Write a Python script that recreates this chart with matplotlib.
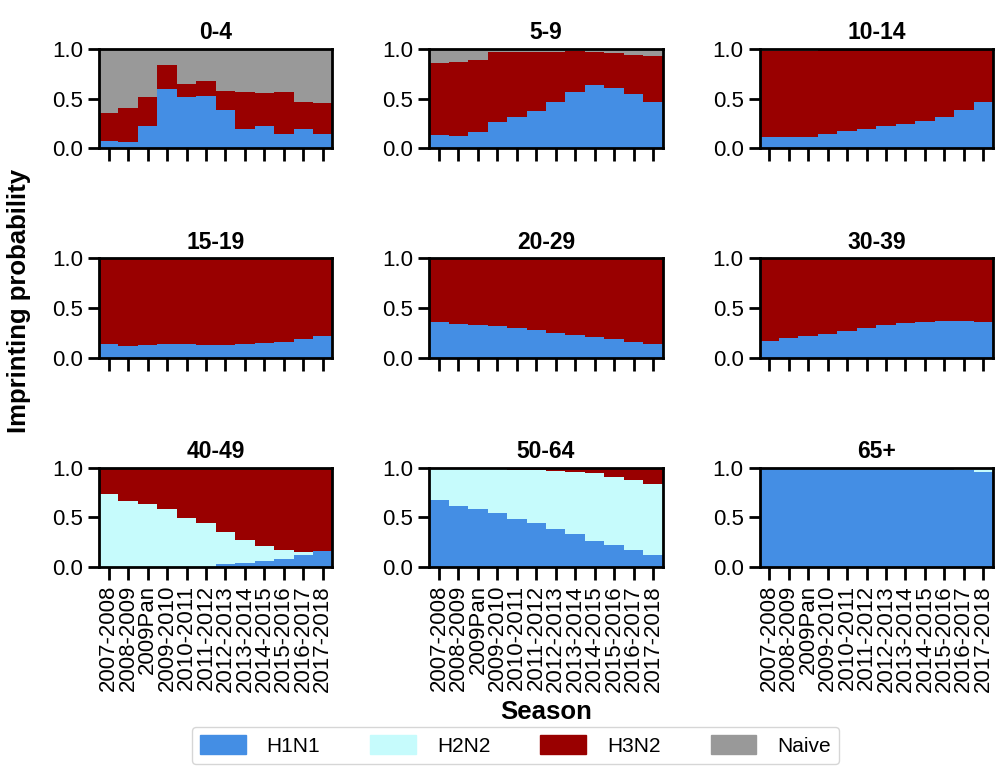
import numpy as np
import matplotlib.pyplot as plt
from matplotlib.patches import Patch

################################################################
# data:
seasons = ['2007-2008', '2008-2009', '2009Pan', '2009-2010', '2010-2011', '2011-2012',
           '2012-2013', '2013-2014', '2014-2015', '2015-2016', '2016-2017', '2017-2018']
age_groups = ['0-4', '5-9', '10-14', '15-19', '20-29', '30-39', '40-49', '50-64', '65+']

h1n1 = {
    '0-4':   [0.075, 0.065, 0.22, 0.60, 0.52, 0.53, 0.39, 0.19, 0.22, 0.14, 0.19, 0.14],
    '5-9':   [0.137, 0.127, 0.168, 0.26, 0.31, 0.373, 0.466, 0.568, 0.64, 0.61, 0.548, 0.466],
    '10-14': [0.117, 0.117, 0.117, 0.148, 0.169, 0.19, 0.22, 0.24, 0.27, 0.31, 0.385, 0.466],
    '15-19': [0.14, 0.12, 0.13, 0.14, 0.14, 0.13, 0.13, 0.14, 0.15, 0.16, 0.19, 0.22],
    '20-29': [0.356, 0.336, 0.325, 0.315, 0.295, 0.274, 0.253, 0.233, 0.212, 0.192, 0.16, 0.14],
    '30-39': [0.17, 0.20, 0.22, 0.24, 0.27, 0.295, 0.325, 0.346, 0.356, 0.366, 0.366, 0.356],
    '40-49': [0.0, 0.0, 0.0, 0.0, 0.003, 0.005, 0.03, 0.04, 0.06, 0.08, 0.123, 0.164],
    '50-64': [0.678, 0.616, 0.586, 0.545, 0.483, 0.44, 0.38, 0.33, 0.267, 0.226, 0.175, 0.123],
    '65+':   [1.0, 1.0, 1.0, 1.0, 1.0, 1.0, 1.0, 0.995, 0.995, 0.985, 0.98, 0.962],
}
h2n2 = {
    '0-4':   [0.0] * 12,
    '5-9':   [0.0] * 12,
    '10-14': [0.0] * 12,
    '15-19': [0.0] * 12,
    '20-29': [0.0] * 12,
    '30-39': [0.0] * 12,
    '40-49': [0.74, 0.67, 0.64, 0.586, 0.49, 0.435, 0.32, 0.237, 0.156, 0.095, 0.031, 0.0],
    '50-64': [0.322, 0.379, 0.409, 0.45, 0.497, 0.54, 0.59, 0.63, 0.678, 0.684, 0.702, 0.713],
    '65+':   [0.0, 0.0, 0.0, 0.0, 0.0, 0.0, 0.0, 0.005, 0.005, 0.015, 0.02, 0.038],
}
naive = {
    '0-4':   [0.64, 0.59, 0.48, 0.16, 0.35, 0.32, 0.42, 0.43, 0.44, 0.43, 0.53, 0.545],
    '5-9':   [0.144, 0.134, 0.113, 0.03, 0.03, 0.03, 0.03, 0.02, 0.03, 0.04, 0.06, 0.07],
    '10-14': [0.015, 0.015, 0.015, 0.0, 0.0, 0.0, 0.0, 0.0, 0.0, 0.0, 0.0, 0.0],
    '15-19': [0.0] * 12,
    '20-29': [0.0] * 12,
    '30-39': [0.0] * 12,
    '40-49': [0.0] * 12,
    '50-64': [0.0] * 12,
    '65+':   [0.0] * 12,
}

colors = {'H1N1': '#448ee4', 'H2N2': '#c6fbfc', 'H3N2': '#990000', 'Naive': '#999999'}

################################################################
# plot:
plt.rcParams['font.family'] = ['Liberation Sans', 'DejaVu Sans']
fig, axes = plt.subplots(3, 3, figsize=(9.97, 7.72), dpi=100)
fig.subplots_adjust(left=0.0993, right=0.996, top=0.9365, bottom=0.2655,
                    wspace=0.415, hspace=1.11)

x = np.arange(len(seasons))
for i, age in enumerate(age_groups):
    ax = axes[i // 3, i % 3]
    b1 = np.array(h1n1[age])
    b2 = np.array(h2n2[age])
    bn = np.array(naive[age])
    b3 = 1 - b1 - b2 - bn
    ax.bar(x, b1, width=1, color=colors['H1N1'], linewidth=0)
    ax.bar(x, b2, width=1, bottom=b1, color=colors['H2N2'], linewidth=0)
    ax.bar(x, b3, width=1, bottom=b1 + b2, color=colors['H3N2'], linewidth=0)
    ax.bar(x, bn, width=1, bottom=b1 + b2 + b3, color=colors['Naive'], linewidth=0)
    ax.set_xlim(-0.5, 11.5)
    ax.set_ylim(0, 1)
    ax.set_yticks([0, 0.5, 1.0])
    ax.set_yticklabels(['0.0', '0.5', '1.0'])
    ax.set_xticks(x)
    if i >= 6:
        ax.set_xticklabels(seasons, rotation=90, fontsize=14.5)
    else:
        ax.set_xticklabels([])
    ax.tick_params(axis='both', length=8, width=2, labelsize=16)
    ax.tick_params(axis='x', length=9.5)
    for s in ax.spines.values():
        s.set_linewidth(2)
    ax.set_title(age, fontsize=16.5, fontweight='bold', pad=7)

fig.text(0.019, 0.61, 'Imprinting probability', rotation=90, va='center', ha='center',
         fontsize=18.5, fontweight='bold')
fig.text(0.548, 0.078, 'Season', ha='center', va='center', fontsize=18.5, fontweight='bold')

handles = [Patch(color=colors[k]) for k in ['H1N1', 'H2N2', 'H3N2', 'Naive']]
fig.legend(handles, ['H1N1', 'H2N2', 'H3N2', 'Naive'], loc='lower center',
           bbox_to_anchor=(0.517, -0.003), ncol=4, fontsize=15, handlelength=2.2,
           handleheight=1.0, columnspacing=2.4, handletextpad=1.0)

plt.savefig('out.png', dpi=100)
plt.close()
